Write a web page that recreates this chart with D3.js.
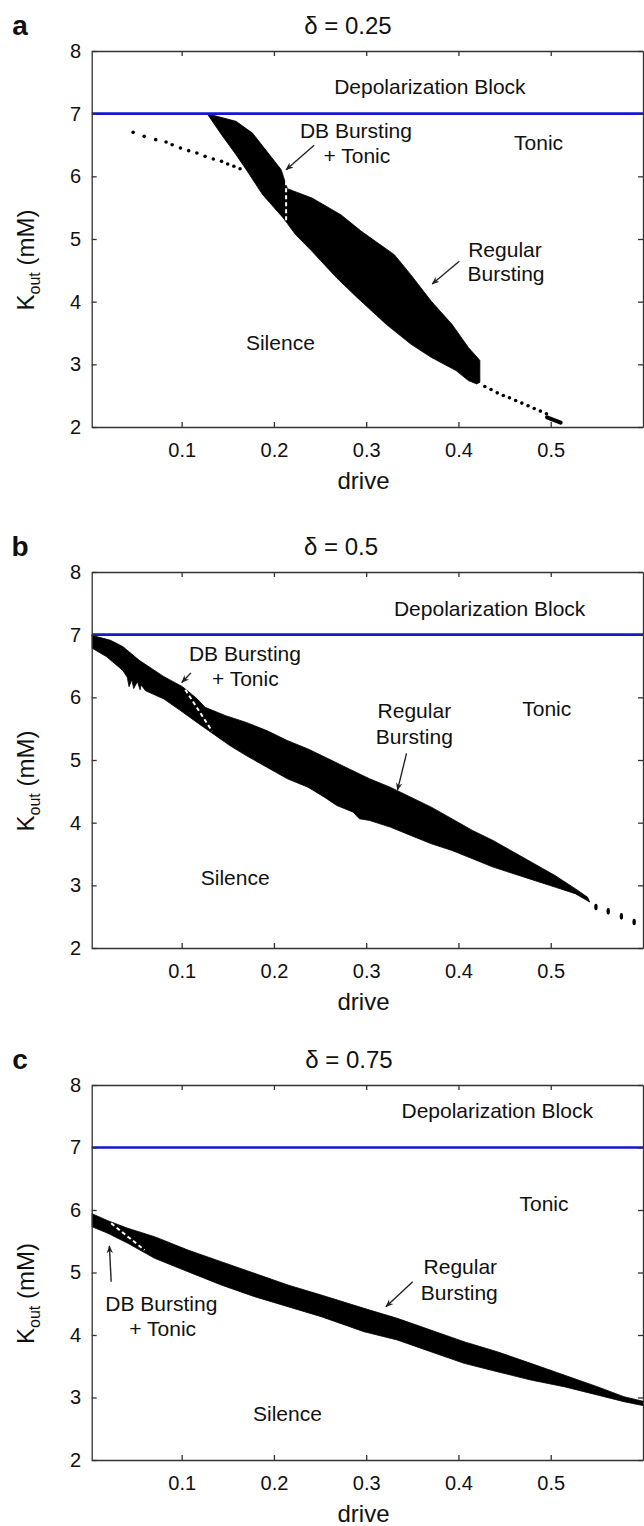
<!DOCTYPE html>
<html>
<head>
<style type="text/css">
  body { margin: 0; background: #fff; }
  text { font-family: "Liberation Sans", Arial, Helvetica, sans-serif; fill: #111; }
  .axis path, .axis line { stroke: #333; stroke-width: 1.3; }
  .axis text { font-size: 20px; fill: #111; font-family: "Liberation Sans", Arial, sans-serif; }
</style>
</head>
<body>
<div id="canvas"></div>
<script src="https://cdn.jsdelivr.net/npm/d3@7/dist/d3.min.js"></script>
<script>
// tick values shared by the three panels
var xTicks = [0.1, 0.2, 0.3, 0.4, 0.5];
var yTicks = [2, 3, 4, 5, 6, 7, 8];
var blockLevel = 7; // K_out where depolarization block starts

// panel a (delta = 0.25): bursting region outline [drive, Kout]
var regionA = [
  [0.1276, 7.0], [0.1589, 6.878], [0.1767, 6.691], [0.1923, 6.399], [0.2079, 6.106],
  [0.2110, 5.963], [0.2146, 5.803], [0.2413, 5.654], [0.2725, 5.388], [0.2948, 5.122],
  [0.3305, 4.750], [0.3483, 4.431], [0.3706, 4.005], [0.3929, 3.640], [0.4107, 3.270],
  [0.4219, 3.085], [0.4232, 3.06], [0.4232, 2.714], [0.4197, 2.688], [0.4107, 2.741],
  [0.3974, 2.90], [0.3706, 3.111], [0.3483, 3.323], [0.3216, 3.640], [0.2904, 4.063],
  [0.2681, 4.378], [0.2413, 4.803], [0.2235, 5.069], [0.2101, 5.335], [0.1878, 5.707],
  [0.1700, 6.106], [0.1589, 6.346], [0.1432, 6.665]
];
var dotsA1 = [
  [0.0474, 6.702], [0.0594, 6.638], [0.0719, 6.585], [0.0831, 6.548], [0.0897, 6.505],
  [0.0987, 6.452], [0.1076, 6.410], [0.1165, 6.372], [0.1254, 6.319], [0.1343, 6.277],
  [0.1432, 6.239], [0.1499, 6.197], [0.1566, 6.160], [0.1633, 6.122]
];
var dotsA2 = [
  [0.4286, 2.646], [0.4353, 2.598], [0.4420, 2.545], [0.4486, 2.503], [0.4553, 2.466],
  [0.4620, 2.423], [0.4687, 2.381], [0.4754, 2.339], [0.4821, 2.296], [0.4888, 2.254],
  [0.4954, 2.212]
];
var blobA = [[0.4960, 2.155], [0.5108, 2.070]];
var dashA = [[0.2132, 5.92], [0.2132, 5.20]];

// panel b (delta = 0.5)
var regionB = [
  [0.0, 7.0], [0.0229, 6.91], [0.0362, 6.81], [0.0541, 6.59], [0.0808, 6.33],
  [0.1009, 6.17], [0.1165, 5.98], [0.1254, 5.84], [0.1477, 5.708], [0.170, 5.60],
  [0.1923, 5.469], [0.2146, 5.31], [0.2369, 5.177], [0.2592, 5.018], [0.2815, 4.858],
  [0.3037, 4.70], [0.326, 4.566], [0.3483, 4.407], [0.3706, 4.248], [0.3929, 4.062],
  [0.4152, 3.876], [0.4375, 3.716], [0.4598, 3.53], [0.4821, 3.345], [0.5044, 3.159],
  [0.5266, 2.946], [0.540, 2.81], [0.5422, 2.734],
  [0.5266, 2.867], [0.5044, 2.973], [0.4821, 3.079], [0.4598, 3.185], [0.4375, 3.291],
  [0.4152, 3.424], [0.3929, 3.557], [0.3706, 3.663], [0.3483, 3.796], [0.326, 3.929],
  [0.3037, 4.035], [0.2926, 4.062], [0.2859, 4.168], [0.2681, 4.274], [0.2547, 4.407],
  [0.2369, 4.566], [0.2146, 4.70], [0.1923, 4.885], [0.170, 5.07], [0.1522, 5.23],
  [0.1343, 5.416], [0.1165, 5.60], [0.0987, 5.788], [0.0808, 5.973], [0.0608, 6.106],
  [0.056, 6.20], [0.055, 6.12], [0.052, 6.25], [0.048, 6.14], [0.046, 6.28],
  [0.043, 6.17], [0.041, 6.32], [0.0362, 6.43], [0.0184, 6.65], [0.0, 6.81]
];
var dotsB = [[0.549, 2.654], [0.5623, 2.585], [0.5766, 2.505], [0.5904, 2.415]];
var dashB = [[0.1040, 6.12], [0.1330, 5.46]];

// panel c (delta = 0.75)
var regionC = [
  [0.0, 5.96], [0.020, 5.829], [0.0417, 5.707], [0.0707, 5.573], [0.1068, 5.36],
  [0.1429, 5.173], [0.179, 4.987], [0.2152, 4.80], [0.2513, 4.64], [0.2976, 4.427],
  [0.3337, 4.267], [0.3699, 4.08], [0.406, 3.893], [0.442, 3.733], [0.4783, 3.547],
  [0.5144, 3.36], [0.5505, 3.173], [0.5794, 3.013], [0.602, 2.933],
  [0.602, 2.864], [0.5794, 2.933], [0.5505, 3.04], [0.5144, 3.173], [0.4783, 3.28],
  [0.442, 3.413], [0.406, 3.547], [0.3699, 3.733], [0.3337, 3.92], [0.2976, 4.053],
  [0.2513, 4.293], [0.2152, 4.453], [0.179, 4.613], [0.1429, 4.80], [0.1068, 5.013],
  [0.0707, 5.227], [0.0417, 5.467], [0.020, 5.627], [0.0, 5.75]
];
var dashC = [[0.0236, 5.787], [0.0598, 5.36]];

// annotation labels [text, drive, Kout]
var labelsA = [["Depolarization Block", 0.369, 7.436], ["DB Bursting", 0.2889, 6.733], ["+ Tonic", 0.2899, 6.334],
  ["Tonic", 0.4868, 6.532], ["Regular", 0.4504, 4.839], ["Bursting", 0.4515, 4.444], ["Silence", 0.207, 3.347]];
var labelsB = [["Depolarization Block", 0.4338, 7.418], ["DB Bursting", 0.1686, 6.70], ["+ Tonic", 0.169, 6.30],
  ["Tonic", 0.4957, 5.823], ["Regular", 0.3522, 5.785], ["Bursting", 0.3522, 5.37], ["Silence", 0.158, 3.128]];
var labelsC = [["Depolarization Block", 0.442, 7.589], ["Tonic", 0.4927, 6.107], ["Regular", 0.402, 5.093],
  ["Bursting", 0.4009, 4.677], ["DB Bursting", 0.078, 4.512], ["+ Tonic", 0.0795, 4.107], ["Silence", 0.2146, 2.747]];

// arrows [[tail], [head]]
var arrowsA = [[[0.2436, 6.495], [0.2132, 6.106]], [[0.4009, 4.644], [0.3715, 4.282]]];
var arrowsB = [[[0.1100, 6.39], [0.1002, 6.237]], [[0.3437, 5.105], [0.3339, 4.52]]];
var arrowsC = [[[0.3504, 4.853], [0.3214, 4.453]], [[0.0236, 4.853], [0.0217, 5.424]]];

var panels = [
  { letter: "a", title: "\u03b4 = 0.25", titleX: 348, top: 51, bottom: 427, region: regionA,
    dots: [dotsA1, dotsA2], tall: [], blob: blobA, dash: dashA, labels: labelsA, arrows: arrowsA },
  { letter: "b", title: "\u03b4 = 0.5", titleX: 341, top: 572, bottom: 948, region: regionB,
    dots: [], tall: dotsB, blob: null, dash: dashB, labels: labelsB, arrows: arrowsB },
  { letter: "c", title: "\u03b4 = 0.75", titleX: 349, top: 1085, bottom: 1460, region: regionC,
    dots: [], tall: [], blob: null, dash: dashC, labels: labelsC, arrows: arrowsC }
];

var svg = d3.select("#canvas").append("svg")
  .attr("width", 644).attr("height", 1526);

svg.append("defs").append("marker")
  .attr("id", "head")
  .attr("viewBox", "0 0 10 10")
  .attr("refX", 9).attr("refY", 5)
  .attr("markerUnits", "userSpaceOnUse")
  .attr("markerWidth", 8).attr("markerHeight", 8)
  .attr("orient", "auto")
  .append("path").attr("d", "M0,1 L10,5 L0,9 L3,5 z").attr("fill", "#222");

var left = 91.7, right = 643;
var fmtX = function (d) { return String(d); };
var fmtY = d3.format("d");

var drawPanel = function (p, i) {
  var x = d3.scaleLinear().domain([0.0025, 0.6]).range([left, right]);
  var y = d3.scaleLinear().domain([2, 8]).range([p.bottom, p.top]);
  var line = d3.line().x(function (d) { return x(d[0]); }).y(function (d) { return y(d[1]); });

  svg.select("defs").append("clipPath").attr("id", "clip" + i)
    .append("rect").attr("x", left).attr("y", p.top).attr("width", right - left).attr("height", p.bottom - p.top);

  var g = svg.append("g");
  var plot = g.append("g").attr("clip-path", "url(#clip" + i + ")");

  plot.append("path").datum(p.region)
    .attr("d", line.curve(d3.curveLinearClosed))
    .attr("fill", "#000").attr("stroke", "#000").attr("stroke-width", 0.8);
  line.curve(d3.curveLinear);

  p.dots.forEach(function (set) {
    plot.selectAll(null).data(set).enter().append("circle")
      .attr("cx", function (d) { return x(d[0]); })
      .attr("cy", function (d) { return y(d[1]); })
      .attr("r", 1.8).attr("fill", "#000");
  });
  plot.selectAll(null).data(p.tall).enter().append("ellipse")
    .attr("cx", function (d) { return x(d[0]); })
    .attr("cy", function (d) { return y(d[1]); })
    .attr("rx", 1.7).attr("ry", 3.3).attr("fill", "#000");
  if (p.blob) {
    plot.append("path").datum(p.blob).attr("d", line)
      .attr("stroke", "#000").attr("stroke-width", 4).attr("stroke-linecap", "round").attr("fill", "none");
  }
  plot.append("path").datum(p.dash).attr("d", line)
    .attr("stroke", "#fff").attr("stroke-width", 2).attr("stroke-dasharray", "4,3").attr("fill", "none");

  // depolarization block boundary
  plot.append("line")
    .attr("x1", x(0.0025)).attr("x2", x(0.6))
    .attr("y1", y(blockLevel)).attr("y2", y(blockLevel))
    .attr("stroke", "#1515d6").attr("stroke-width", 2.6);

  // axes, ticks inward on all four sides
  g.append("g").attr("class", "axis").attr("transform", "translate(0," + p.bottom + ")")
    .call(d3.axisBottom(x).tickValues(xTicks).tickFormat(fmtX).tickSizeInner(-5).tickSizeOuter(0).tickPadding(16));
  g.append("g").attr("class", "axis").attr("transform", "translate(0," + p.top + ")")
    .call(d3.axisTop(x).tickValues(xTicks).tickSizeInner(-5).tickSizeOuter(0).tickFormat(""));
  g.append("g").attr("class", "axis").attr("transform", "translate(" + left + ",0)")
    .call(d3.axisLeft(y).tickValues(yTicks).tickFormat(fmtY).tickSizeInner(-5).tickSizeOuter(0).tickPadding(10.5));
  g.append("g").attr("class", "axis").attr("transform", "translate(" + right + ",0)")
    .call(d3.axisRight(y).tickValues(yTicks).tickSizeInner(-5).tickSizeOuter(0).tickFormat(""));

  // annotations
  g.selectAll(null).data(p.labels).enter().append("text")
    .attr("x", function (d) { return x(d[1]); })
    .attr("y", function (d) { return y(d[2]); })
    .attr("text-anchor", "middle").attr("dominant-baseline", "central")
    .style("font-size", "21px")
    .text(function (d) { return d[0]; });
  g.selectAll(null).data(p.arrows).enter().append("path")
    .attr("d", line)
    .attr("stroke", "#222").attr("stroke-width", 1.4).attr("fill", "none")
    .attr("marker-end", "url(#head)");

  // titles and axis labels
  g.append("text").attr("x", 20).attr("y", p.top - 26)
    .attr("text-anchor", "middle").attr("dominant-baseline", "central")
    .style("font-size", "28px").style("font-weight", "bold").text(p.letter);
  g.append("text").attr("x", p.titleX).attr("y", p.top - 26)
    .attr("text-anchor", "middle").attr("dominant-baseline", "central")
    .style("font-size", "24px").text(p.title);
  g.append("text").attr("x", 363.5).attr("y", p.bottom + 53)
    .attr("text-anchor", "middle").attr("dominant-baseline", "central")
    .style("font-size", "24px").text("drive");

  var yl = g.append("text")
    .attr("transform", "translate(34," + ((p.top + p.bottom) / 2 + 21) + ") rotate(-90)")
    .attr("text-anchor", "middle").style("font-size", "24px");
  yl.append("tspan").text("K");
  yl.append("tspan").attr("dy", 6).style("font-size", "16px").text("out");
  yl.append("tspan").attr("dy", -6).text(" (mM)");
};

panels.forEach(drawPanel);
</script>
</body>
</html>
